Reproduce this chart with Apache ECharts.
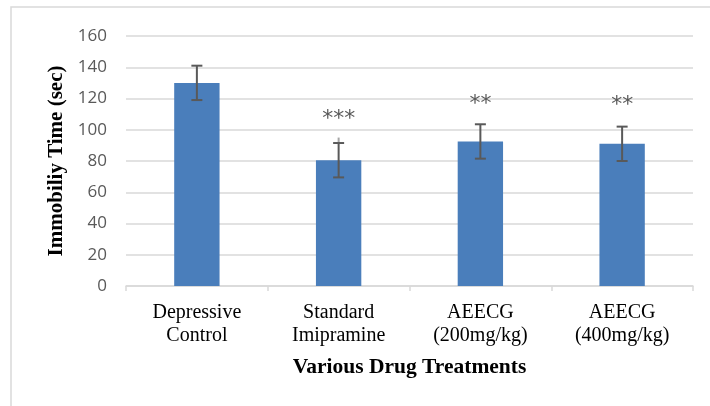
<!DOCTYPE html>
<html>
<head>
<meta charset="utf-8">
<script src="https://cdn.jsdelivr.net/npm/echarts@6/dist/echarts.min.js"></script>
<style>html,body{margin:0;padding:0;background:#fff}#c{width:710px;height:406px}</style>
</head>
<body>
<div id="c"></div>
<script>
var categories = ['Depressive\nControl', 'Standard\nImipramine', 'AEECG\n(200mg/kg)', 'AEECG\n(400mg/kg)'];
var means = [130, 80.5, 92.5, 91];
var sds = [11, 11, 11, 11];
var faintTop = [null, 95, null, null];
var stars = ['', '***', '**', '**'];
var starValues = [null, 107, 116, 115.5];
var yTicks = [0, 20, 40, 60, 80, 100, 120, 140, 160];

var chart = echarts.init(document.getElementById('c'));
var errData = means.map(function (m, i) { return [i, m - sds[i], m + sds[i], faintTop[i] == null ? m + sds[i] : faintTop[i]]; });
var starData = stars.map(function (s, i) { return [i, starValues[i], s]; }).filter(function (d) { return d[2]; });

chart.setOption({
  animation: false,
  graphic: [{
    type: 'rect', shape: { x: 11, y: 7, width: 720, height: 420 },
    style: { fill: 'none', stroke: '#d9d9d9', lineWidth: 1.5 }, silent: true
  }],
  grid: { left: 126, right: 17, top: 36, bottom: 120 },
  xAxis: {
    type: 'category', data: categories,
    axisLine: { lineStyle: { color: '#d9d9d9', width: 1.5 } },
    axisTick: { show: true, length: 5, lineStyle: { color: '#d9d9d9', width: 1.5 } },
    axisLabel: { interval: 0, color: '#000', fontFamily: 'Liberation Serif', fontSize: 20, lineHeight: 23, margin: 15 },
    name: 'Various Drug Treatments', nameLocation: 'middle', nameGap: 70,
    nameTextStyle: { color: '#000', fontFamily: 'Liberation Serif', fontWeight: 'bold', fontSize: 21.5 }
  },
  yAxis: {
    type: 'value', min: yTicks[0], max: yTicks[yTicks.length - 1], interval: 20,
    axisLine: { show: false }, axisTick: { show: false },
    splitLine: { lineStyle: { color: '#d9d9d9', width: 1.5 } },
    axisLabel: { color: '#595959', fontFamily: 'Open Sans', fontSize: 17, margin: 19 },
    name: 'Immobiliy Time (sec)', nameLocation: 'middle', nameGap: 56,
    nameTextStyle: { color: '#000', fontFamily: 'Liberation Serif', fontWeight: 'bold', fontSize: 21 }
  },
  series: [{
    type: 'bar', data: means, barWidth: '32%',
    itemStyle: { color: '#4a7ebb' }
  }, {
    type: 'custom', data: errData, z: 10,
    renderItem: function (params, api) {
      var x = api.value(0);
      var lo = api.coord([x, api.value(1)]);
      var hi = api.coord([x, api.value(2)]);
      var ft = api.coord([x, api.value(3)]);
      var w = 5.5;
      var st = { stroke: '#595959', lineWidth: 2 };
      return { type: 'group', children: [
        { type: 'line', shape: { x1: hi[0], y1: hi[1], x2: ft[0], y2: ft[1] }, style: { stroke: '#a6a6a6', lineWidth: 2 } },
        { type: 'line', shape: { x1: lo[0], y1: lo[1], x2: hi[0], y2: hi[1] }, style: st },
        { type: 'line', shape: { x1: lo[0] - w, y1: lo[1], x2: lo[0] + w, y2: lo[1] }, style: st },
        { type: 'line', shape: { x1: hi[0] - w, y1: hi[1], x2: hi[0] + w, y2: hi[1] }, style: st }
      ]};
    }
  }, {
    type: 'custom', data: starData, z: 11,
    renderItem: function (params, api) {
      var p = api.coord([api.value(0), api.value(1)]);
      return { type: 'text', style: { text: starData[params.dataIndex][2], x: p[0], y: p[1],
        align: 'center', verticalAlign: 'middle', fill: '#595959', font: '22px "DejaVu Sans"' } };
    }
  }]
});
</script>
</body>
</html>
